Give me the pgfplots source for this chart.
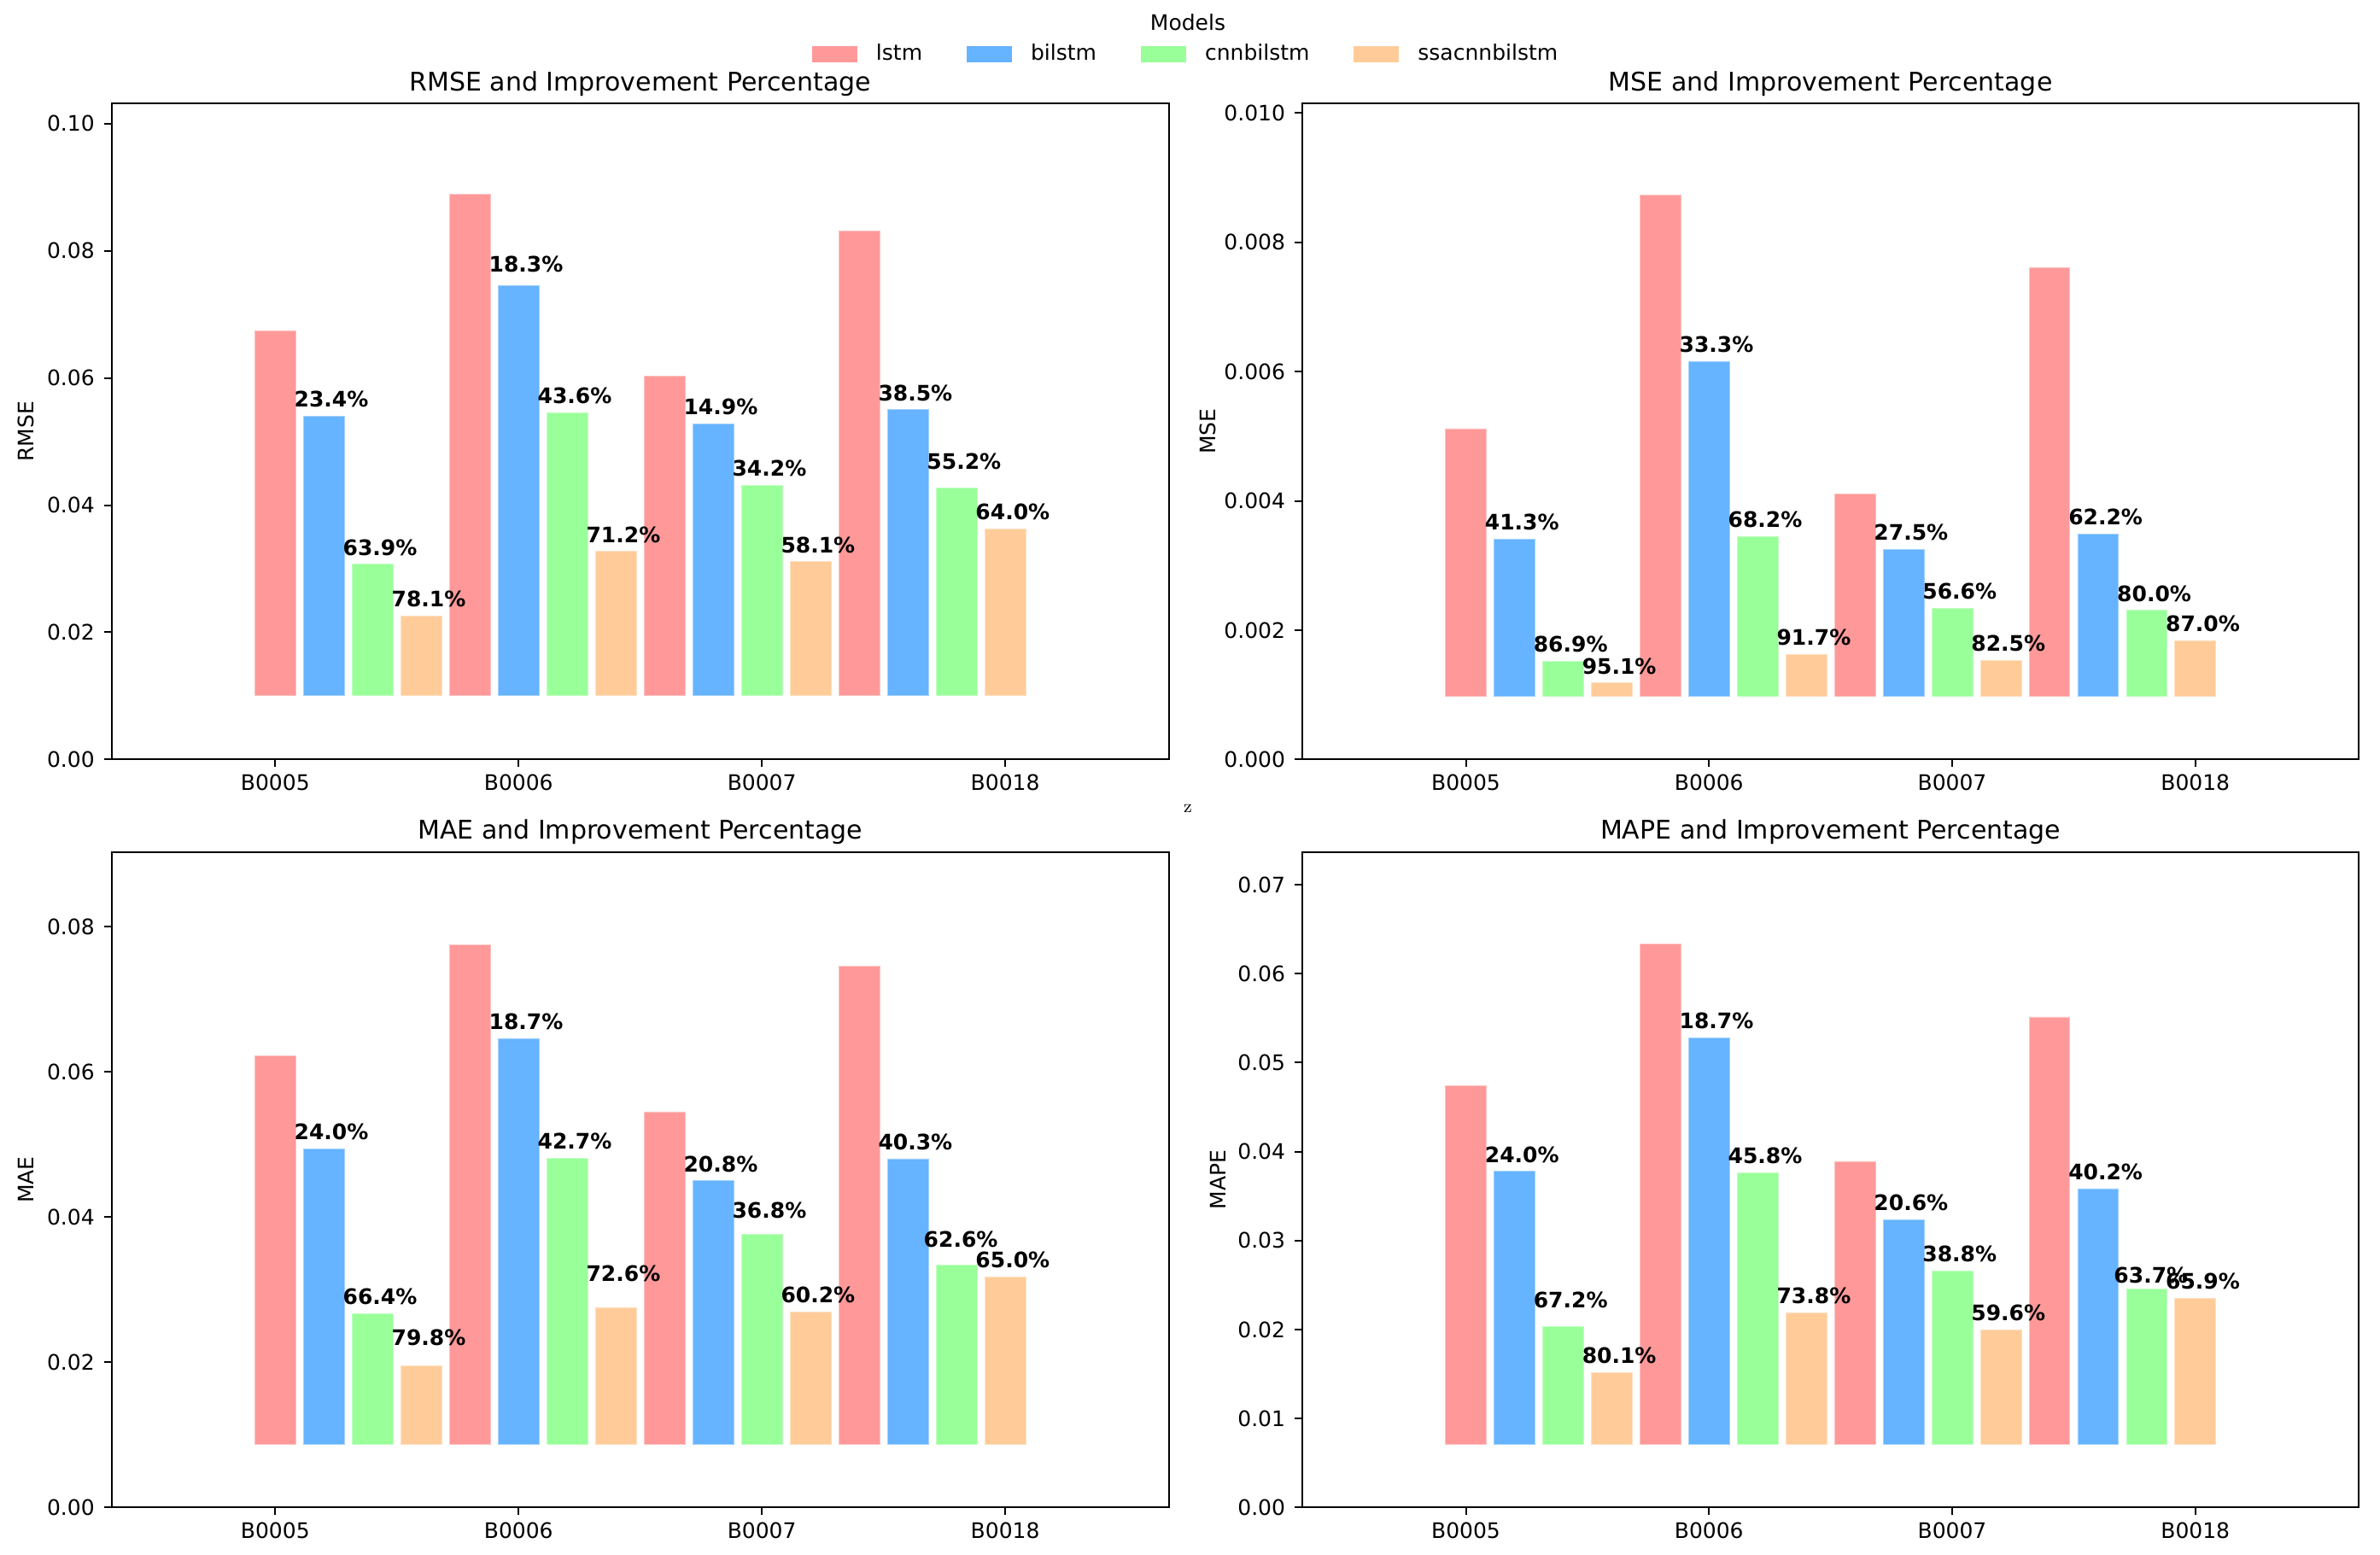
\documentclass[border=0pt]{standalone}
\usepackage{fontspec}
\usepackage{pgfplots}
\pgfplotsset{compat=1.18}
\newfontfamily\dejavu{DejaVu Sans}
\newcommand\tenbp{\dejavu\fontsize{10bp}{12bp}\selectfont}
\newcommand\twelvebp{\dejavu\fontsize{12bp}{14.4bp}\selectfont}
% label nudged by (dx,dy) from its usual place above the bar
\newcommand\lab[3]{\raisebox{#2}[0pt][0pt]{\makebox[0pt]{\hspace*{#1}\hspace*{#1}#3}}}

\definecolor{clstm}{HTML}{FF9999}
\definecolor{cbilstm}{HTML}{66B3FF}
\definecolor{ccnn}{HTML}{99FF99}
\definecolor{cssa}{HTML}{FFCC99}

\pgfplotsset{
  panel/.style={
    scale only axis, anchor=south west,
    xmin=-0.6725, xmax=3.6725, ymin=0,
    xtick={0,1,2,3}, xticklabels={B0005,B0006,B0007,B0018},
    scaled y ticks=false,
    tick align=outside, tick pos=left,
    major tick length=3.5bp,
    every tick/.style={black, line width=0.8bp},
    axis line style={line width=0.8bp},
    ticklabel style={font=\tenbp, inner sep=0pt},
    /pgf/number format/assume math mode=true,
    xticklabel style={yshift=-3.5bp},
    yticklabel style={xshift=-4.3bp},
    every axis title/.style={font=\twelvebp, at={(0.5,1)}, anchor=base, yshift=6bp, inner sep=0pt},
  },
  ylab/.style={every axis y label/.style={font=\tenbp, at={(rel axis cs:#1,0.5)}, rotate=90, anchor=center}},
  base/.style={y coord trafo/.code={\pgfmathparse{##1-#1}},
               y coord inv trafo/.code={\pgfmathparse{##1+#1}}},
  bars/.style={ybar, bar width=0.168, bar shift=0pt, fill=#1, draw=#1!60!white,
               line width=0.3bp, forget plot},
  pct/.style={nodes near coords, point meta=explicit symbolic,
              every node near coord/.append style={font=\tenbp\bfseries, inner sep=0pt,
                 xshift=3.5bp, yshift=4bp}},
  legimg/.style={legend image code/.code={\fill[#1] (0bp,-3.6bp) rectangle (20.8bp,3.6bp);}},
}

\begin{document}
\begin{tikzpicture}
\path[use as bounding box] (0,0) rectangle (1114.8bp,728.4bp);

% RMSE
\begin{axis}[panel, base=0.0100, at={(52.28bp,372.68bp)}, width=495.2bp, height=307.3bp,
  ymax=0.1032, ytick={0,0.02,0.04,0.06,0.08,0.10},
  yticklabels={0.00,0.02,0.04,0.06,0.08,0.10},
  title={RMSE and Improvement Percentage}, ylabel={RMSE}, ylab=-0.0808,
  legend style={at={(rel axis cs:0.6626,1.0755)}, anchor=west, draw=none, fill=none,
    inner sep=0pt, outer sep=0pt, font=\tenbp, legend columns=4,
    nodes={inner sep=0pt},
    /tikz/every odd column/.style={column sep=8.8bp},
    /tikz/every even column/.style={column sep=20.8bp}},
  legend cell align=left]
\addlegendimage{legimg=clstm}\addlegendentry{lstm}
\addlegendimage{legimg=cbilstm}\addlegendentry{bilstm}
\addlegendimage{legimg=ccnn}\addlegendentry{cnnbilstm}
\addlegendimage{legimg=cssa}\addlegendentry{ssacnnbilstm}
\addplot[bars=clstm] coordinates {(0,0.0674) (0.8,0.0889) (1.6,0.0603) (2.4,0.0831)};
\addplot[bars=cbilstm, pct] coordinates {(0.2,0.0540)[23.4\%] (1.0,0.0745)[\lab{0bp}{2bp}{18.3\%}] (1.8,0.0528)[14.9\%] (2.6,0.0550)[38.5\%]};
\addplot[bars=ccnn, pct] coordinates {(0.4,0.0307)[63.9\%] (1.2,0.0545)[43.6\%] (2.0,0.0431)[34.2\%] (2.8,0.0427)[\lab{0bp}{4bp}{55.2\%}]};
\addplot[bars=cssa, pct] coordinates {(0.6,0.0226)[78.1\%] (1.4,0.0327)[71.2\%] (2.2,0.0311)[58.1\%] (3.0,0.0363)[64.0\%]};
\end{axis}

% MSE
\begin{axis}[panel, base=0.00098, at={(610.0bp,372.68bp)}, width=494.9bp, height=307.3bp,
  ymax=0.01014, ytick={0,0.002,0.004,0.006,0.008,0.010},
  yticklabels={0.000,0.002,0.004,0.006,0.008,0.010},
  title={MSE and Improvement Percentage}, ylabel={MSE}, ylab=-0.0897]
\addplot[bars=clstm] coordinates {(0,0.005117) (0.8,0.008732) (1.6,0.004108) (2.4,0.007606)};
\addplot[bars=cbilstm, pct] coordinates {(0.2,0.003408)[41.3\%] (1.0,0.006151)[33.3\%] (1.8,0.003248)[27.5\%] (2.6,0.003485)[62.2\%]};
\addplot[bars=ccnn, pct] coordinates {(0.4,0.001522)[86.9\%] (1.2,0.003445)[68.2\%] (2.0,0.002338)[56.6\%] (2.8,0.002305)[80.0\%]};
\addplot[bars=cssa, pct] coordinates {(0.6,0.001183)[95.1\%] (1.4,0.001623)[91.7\%] (2.2,0.001527)[82.5\%] (3.0,0.001841)[87.0\%]};
\end{axis}

% MAE
\begin{axis}[panel, base=0.00874, at={(52.28bp,22.28bp)}, width=495.2bp, height=307.0bp,
  ymax=0.0903, ytick={0,0.02,0.04,0.06,0.08},
  yticklabels={0.00,0.02,0.04,0.06,0.08},
  title={MAE and Improvement Percentage}, ylabel={MAE}, ylab=-0.0808]
\addplot[bars=clstm] coordinates {(0,0.06225) (0.8,0.07749) (1.6,0.05452) (2.4,0.07457)};
\addplot[bars=cbilstm, pct] coordinates {(0.2,0.04941)[24.0\%] (1.0,0.06463)[18.7\%] (1.8,0.04500)[20.8\%] (2.6,0.04804)[40.3\%]};
\addplot[bars=ccnn, pct] coordinates {(0.4,0.02672)[66.4\%] (1.2,0.04813)[42.7\%] (2.0,0.03767)[\lab{0bp}{3bp}{36.8\%}] (2.8,0.03336)[\lab{-1.5bp}{4bp}{62.6\%}]};
\addplot[bars=cssa, pct] coordinates {(0.6,0.01955)[\lab{0bp}{5bp}{79.8\%}] (1.4,0.02758)[\lab{0bp}{7.5bp}{72.6\%}] (2.2,0.02696)[60.2\%] (3.0,0.03178)[65.0\%]};
\end{axis}

% MAPE
\begin{axis}[panel, base=0.00713, at={(610.0bp,22.28bp)}, width=494.9bp, height=307.0bp,
  ymax=0.0737, ytick={0,0.01,0.02,0.03,0.04,0.05,0.06,0.07},
  yticklabels={0.00,0.01,0.02,0.03,0.04,0.05,0.06,0.07},
  title={MAPE and Improvement Percentage}, ylabel={MAPE}, ylab=-0.0800]
\addplot[bars=clstm] coordinates {(0,0.04746) (0.8,0.06334) (1.6,0.03893) (2.4,0.05515)};
\addplot[bars=cbilstm, pct] coordinates {(0.2,0.03778)[24.0\%] (1.0,0.05283)[18.7\%] (1.8,0.03238)[20.6\%] (2.6,0.03585)[40.2\%]};
\addplot[bars=ccnn, pct] coordinates {(0.4,0.02036)[\lab{0bp}{4bp}{67.2\%}] (1.2,0.03760)[45.8\%] (2.0,0.02659)[38.8\%] (2.8,0.02456)[\lab{-1.5bp}{-2bp}{63.7\%}]};
\addplot[bars=cssa, pct] coordinates {(0.6,0.01516)[80.1\%] (1.4,0.02186)[73.8\%] (2.2,0.01998)[59.6\%] (3.0,0.02351)[65.9\%]};
\end{axis}

\node[font=\tenbp, anchor=base] at (556.4bp,714.0bp) {Models};
\node[font=\fontsize{8.5bp}{10bp}\selectfont, anchor=center] at (556.4bp,349.5bp) {z};
\end{tikzpicture}
\end{document}
